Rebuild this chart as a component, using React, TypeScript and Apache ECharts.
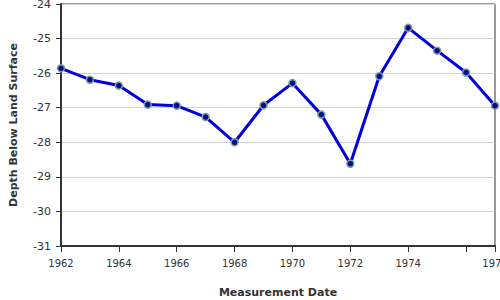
import React, { useEffect, useRef } from "react";
import * as echarts from "echarts";

const years = [1962, 1963, 1964, 1965, 1966, 1967, 1968, 1969, 1970, 1971, 1972, 1973, 1974, 1975, 1976, 1977];
const depths = [-25.86, -26.19, -26.36, -26.91, -26.94, -27.27, -28.0, -26.93, -26.29, -27.2, -28.62, -26.09, -24.69, -25.35, -25.98, -26.94];
const xTickValues = [1962, 1964, 1966, 1968, 1970, 1972, 1974, 1976, 1977];
const xLabelValues = [1962, 1964, 1966, 1968, 1970, 1972, 1974, 1977];

export default function App() {
  const ref = useRef<HTMLDivElement>(null);
  useEffect(() => {
    if (!ref.current) return;
    const chart = echarts.init(ref.current, null, { renderer: "svg" });
    const font = "DejaVu Sans";
    chart.setOption({
      animation: false,
      grid: {
        left: 61,
        right: 5,
        top: 4,
        bottom: 54,
        outerBoundsMode: "none",
        containLabel: false,
        show: true,
        borderColor: "#333",
        borderWidth: 1,
        backgroundColor: "#fff",
      },
      xAxis: {
        type: "value",
        min: 1962,
        max: 1977,
        name: "Measurement Date",
        nameLocation: "middle",
        nameGap: 41,
        nameTextStyle: { fontFamily: font, fontSize: 11, fontWeight: "bold", color: "#333" },
        axisLine: { show: true, lineStyle: { color: "#333", width: 2 } },
        axisTick: { show: true, customValues: xTickValues, length: 6, lineStyle: { color: "#333", width: 1 } },
        axisLabel: {
          customValues: xLabelValues,
          margin: 12,
          fontFamily: font,
          fontSize: 10,
          color: "#333",
          hideOverlap: false,
          formatter: (v: number) => String(v),
        },
        splitLine: { show: false },
      },
      yAxis: {
        type: "value",
        min: -31,
        max: -24,
        interval: 1,
        name: "Depth Below Land Surface",
        nameLocation: "middle",
        nameGap: 42,
        nameTextStyle: { fontFamily: font, fontSize: 11, fontWeight: "bold", color: "#333" },
        axisLine: { show: true, lineStyle: { color: "#333", width: 2 } },
        axisTick: { show: true, length: 5, lineStyle: { color: "#333", width: 1 } },
        axisLabel: { margin: 10, fontFamily: font, fontSize: 11, color: "#333" },
        splitLine: { show: true, lineStyle: { color: "#d4d4d4", width: 1 } },
      },
      series: [
        {
          type: "line",
          data: years.map((y, i) => [y, depths[i]]),
          lineStyle: { color: "#0000dd", width: 3 },
          symbol: "circle",
          symbolSize: 7,
          itemStyle: { color: "#00118a", borderColor: "#7f9a9e", borderWidth: 1.5 },
          clip: false,
        },
      ],
    });
    return () => chart.dispose();
  }, []);
  return (
    <div
      ref={ref}
      style={{ position: "absolute", left: 0, top: 0, width: 500, height: 300 }}
    />
  );
}
